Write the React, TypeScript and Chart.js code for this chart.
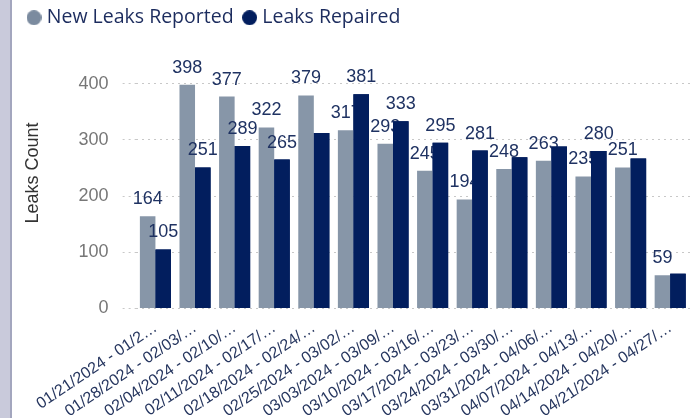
import React, { useEffect, useRef } from "react";
import { Chart, registerables } from "chart.js";

Chart.register(...registerables);

const weekLabels = [
  "01/21/2024 - 01/2…",
  "01/28/2024 - 02/03/…",
  "02/04/2024 - 02/10/…",
  "02/11/2024 - 02/17/…",
  "02/18/2024 - 02/24/…",
  "02/25/2024 - 03/02/…",
  "03/03/2024 - 03/09/…",
  "03/10/2024 - 03/16/…",
  "03/17/2024 - 03/23/…",
  "03/24/2024 - 03/30/…",
  "03/31/2024 - 04/06/…",
  "04/07/2024 - 04/13/…",
  "04/14/2024 - 04/20/…",
  "04/21/2024 - 04/27/…",
];

const newLeaksReported = [164, 398, 377, 322, 379, 317, 293, 245, 194, 248, 263, 235, 251, 59];
const leaksRepaired = [105, 251, 289, 265, 312, 381, 333, 295, 281, 269, 288, 280, 267, 62];
const showRepairedLabel = [true, true, true, true, false, true, true, true, true, false, false, true, false, false];
const yTickValues = [0, 100, 200, 300, 400];

const GRAY = "#8796A8";
const GRAY_DOT = "#7B8B9F";
const NAVY = "#021E5E";
const LABEL_FONT = "'Liberation Sans', Arial, sans-serif";

function makeDot(color: string, d: number) {
  const c = document.createElement("canvas");
  c.width = d;
  c.height = d;
  const g = c.getContext("2d")!;
  g.fillStyle = color;
  g.beginPath();
  g.arc(d / 2, d / 2, d / 2, 0, Math.PI * 2);
  g.fill();
  return c;
}

const dataLabelPlugin = {
  id: "dataLabels",
  afterDatasetsDraw(chart: any) {
    const ctx = chart.ctx;
    const meta0 = chart.getDatasetMeta(0);
    const meta1 = chart.getDatasetMeta(1);
    const d0 = chart.data.datasets[0].data;
    const d1 = chart.data.datasets[1].data;
    ctx.save();
    ctx.font = `18px ${LABEL_FONT}`;
    ctx.fillStyle = "#1F3262";
    ctx.textAlign = "center";
    ctx.textBaseline = "alphabetic";
    meta0.data.forEach((bar: any, i: number) => {
      ctx.fillText(String(d0[i]), bar.x, bar.y - 12);
    });
    meta1.data.forEach((bar: any) => bar.draw(ctx));
    meta1.data.forEach((bar: any, i: number) => {
      if (showRepairedLabel[i]) ctx.fillText(String(d1[i]), bar.x, bar.y - 12);
    });
    ctx.restore();
  },
};

export default function App() {
  const ref = useRef<HTMLCanvasElement>(null);
  useEffect(() => {
    if (!ref.current) return;
    const chart = new Chart(ref.current, {
      type: "bar",
      data: {
        labels: weekLabels,
        datasets: [
          {
            label: "New Leaks Reported",
            data: newLeaksReported,
            backgroundColor: GRAY,
            borderWidth: 0,
            categoryPercentage: 0.785,
            barPercentage: 1,
            pointStyle: makeDot(GRAY_DOT, 15),
          } as any,
          {
            label: "Leaks Repaired",
            data: leaksRepaired,
            backgroundColor: NAVY,
            borderWidth: 0,
            categoryPercentage: 0.785,
            barPercentage: 1,
            pointStyle: makeDot(NAVY, 15),
          } as any,
        ],
      },
      options: {
        animation: false,
        responsive: false,
        maintainAspectRatio: false,
        layout: { padding: { left: 18, right: 7, top: 0, bottom: 0 } },
        plugins: {
          legend: {
            position: "top",
            align: "start",
            labels: {
              usePointStyle: true,
              pointStyleWidth: 6,
              boxHeight: 10.6,
              padding: 13,
              color: "#1C2C5E",
              font: { family: "'Open Sans', sans-serif", size: 19.5 },
            },
          },
          tooltip: { enabled: false },
        },
        scales: {
          x: {
            grid: { display: false, drawTicks: false },
            border: { display: false },
            ticks: {
              autoSkip: false,
              minRotation: 34,
              maxRotation: 34,
              padding: 10,
              color: "#26365F",
              font: { family: LABEL_FONT, size: 16 },
            },
          },
          y: {
            min: 0,
            max: 482,
            afterBuildTicks: (s: any) => {
              s.ticks = yTickValues.map((v) => ({ value: v }));
            },
            grid: {
              color: "#C8C8C8",
              lineWidth: 1,
              drawTicks: true,
              tickLength: 13,
              tickBorderDash: [2, 4],
              tickColor: "#C8C8C8",
            },
            border: { display: false, dash: [2, 4] },
            ticks: {
              padding: 14,
              color: "#777777",
              font: { family: LABEL_FONT, size: 18 },
            },
            title: {
              display: true,
              text: "Leaks Count",
              color: "#333333",
              font: { family: LABEL_FONT, size: 18 },
              padding: { top: 4, bottom: 21 },
            },
          },
        },
      },
      plugins: [dataLabelPlugin],
    });
    return () => chart.destroy();
  }, []);

  return (
    <div style={{ position: "fixed", left: 0, top: 0, width: 697, height: 418, background: "#fff", overflow: "hidden" }}>
      <canvas ref={ref} width={697} height={436} style={{ position: "absolute", left: 0, top: -5, width: 697, height: 436 }} />
      <div style={{ position: "absolute", left: 0, top: 0, width: 10, height: 418, background: "#C9CADB", borderRight: "2px solid #A3A6BE" }} />
    </div>
  );
}
